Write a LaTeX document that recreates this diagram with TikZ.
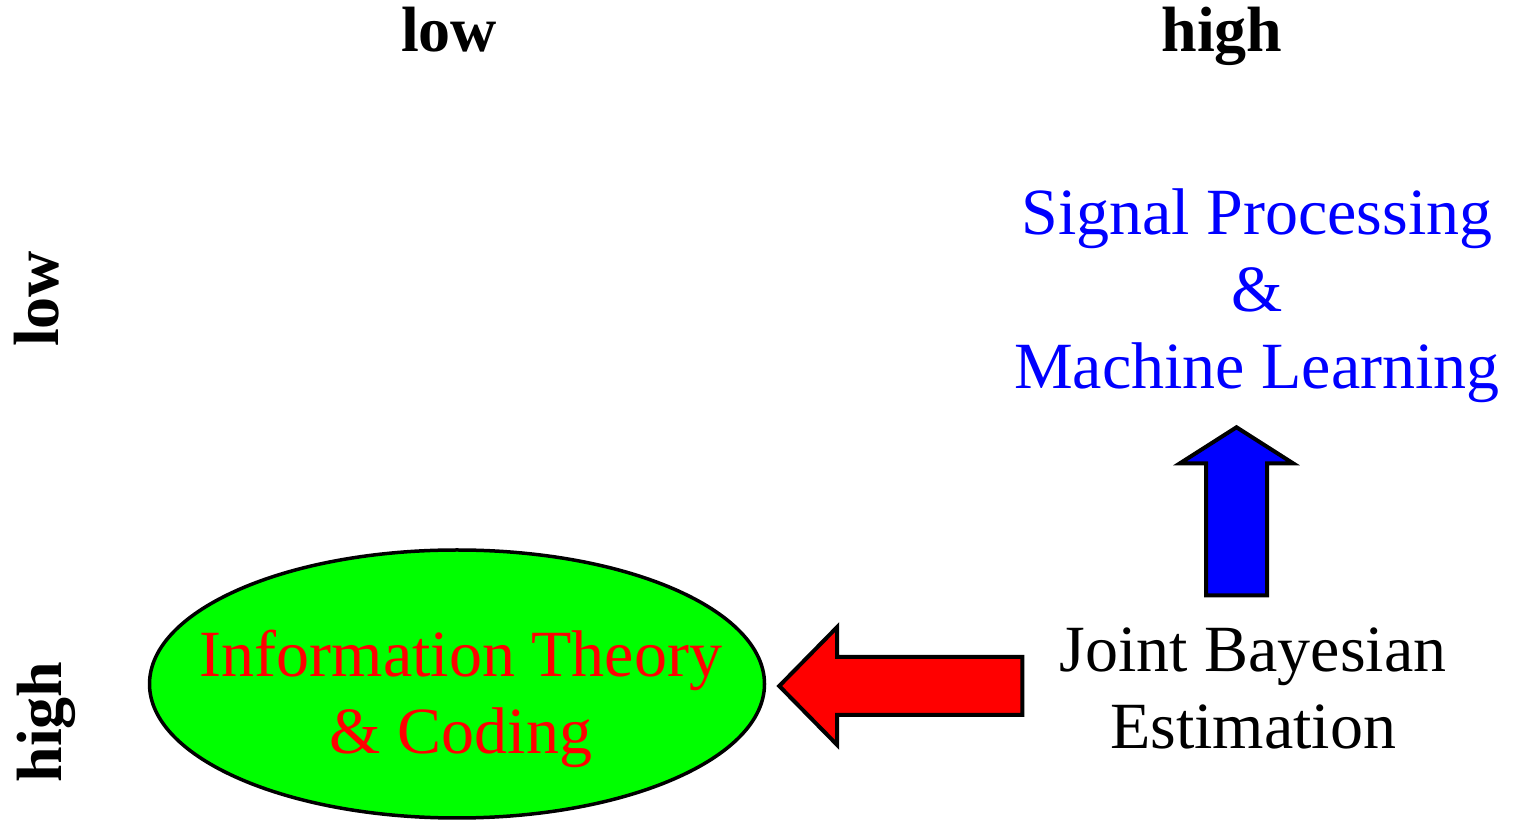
\documentclass[tikz,border=0pt]{standalone}
\usepackage{fontspec}
\setmainfont{Liberation Serif}
\usetikzlibrary{shapes.geometric,shapes.arrows,positioning}
\definecolor{ellgreen}{HTML}{00FF00}
\tikzset{
  axislbl/.style = {font=\fontsize{64}{76}\selectfont\bfseries, anchor=base, inner sep=0pt},
  field/.style   = {font=\fontsize{66}{77}\selectfont, align=center, inner sep=0pt},
  blockar/.style = {single arrow, draw=black, line width=4pt, minimum size=0pt},
}

\begin{document}
\begin{tikzpicture}[x=1pt, y=1pt]
  \useasboundingbox (0,0) rectangle (1516,822);
  % axis labels
  \node[axislbl] (xlow)  at (449,770) {low};
  \node[axislbl] (xhigh) at (1222,770) {high};
  \node[axislbl, rotate=90] (ylow)  at (58,523) {low};
  \node[axislbl, rotate=90] (yhigh) at (61,100) {high};
  % fields
  \node[ellipse, draw=black, line width=3.5pt, fill=ellgreen,
        minimum width=615, minimum height=268] (itcell) at (457,138) {};
  \node[field, text=red] (itc) at (461,123) {Information Theory\\ \& Coding};
  \node[field, text=blue] (spml) at (1257,526) {Signal Processing\\ \&\\ Machine Learning};
  \node[field] (jbe) at (1253,134) {Joint Bayesian\\ Estimation};
  % block arrows
  \node[blockar, fill=red, shape border rotate=180, inner sep=27pt,
        single arrow head extend=30pt, single arrow tip angle=91,
        minimum height=243, minimum width=114] (toitc) at (915,136) {};
  \node[blockar, fill=blue, shape border rotate=90, inner sep=28.5pt,
        single arrow head extend=26pt, single arrow tip angle=115,
        minimum height=168, minimum width=109] (tospml) at (1236.5,301) {};
\end{tikzpicture}
\end{document}
